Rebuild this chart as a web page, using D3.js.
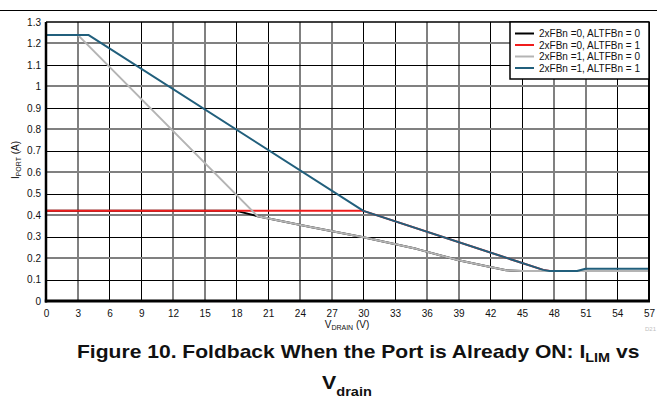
<!DOCTYPE html>
<html>
<head>
<meta charset="utf-8">
<script src="https://cdn.jsdelivr.net/npm/d3@7"></script>
<style>
  body { margin:0; background:#fff; }
  svg { display:block; font-family: "Liberation Sans", Arial, sans-serif; }
</style>
</head>
<body>
<script>
// series data (V_DRAIN in V, I_PORT in A)
const fb00 = [[0,0.42],[18,0.42],[20,0.395],[25,0.345],[30,0.297],[35,0.243],[39,0.19],[42,0.158],[43.5,0.143],[45,0.14],[57,0.14]]
const fb01 = [[0,0.42],[30,0.42],[47,0.145],[47.6,0.14],[57,0.14]]
const fb10 = [[0,1.24],[3,1.24],[20,0.395],[25,0.345],[30,0.297],[35,0.243],[39,0.19],[42,0.158],[43.5,0.143],[45,0.14],[57,0.14]]
const fb11 = [[0,1.24],[4,1.24],[30,0.42],[47,0.145],[47.6,0.14],[50.2,0.14],[51,0.15],[57,0.15]]
const seriesNames = ["2xFBn =0, ALTFBn = 0","2xFBn =0, ALTFBn = 1","2xFBn =1, ALTFBn = 0","2xFBn =1, ALTFBn = 1"]
const seriesColors = ["#000000","#f01c1c","#b4b4b4","#215f7c"]
const xTicks = d3.range(0,58,3)
const yTicks = [0,0.1,0.2,0.3,0.4,0.5,0.6,0.7,0.8,0.9,1,1.1,1.2,1.3]

const width = 658, height = 403
const margin = {top:22, right:9, bottom:102, left:46}

const svg = d3.select("body").append("svg")
  .attr("width",width).attr("height",height)

const x = d3.scaleLinear().domain([0,57]).range([margin.left, width-margin.right])
const y = d3.scaleLinear().domain([0,1.3]).range([height-margin.bottom, margin.top])

// top rule
svg.append("line").attr("x1",0).attr("x2",657).attr("y1",10.5).attr("y2",10.5)
  .attr("stroke","#000").attr("stroke-width",1.2)

// grid
const grid = svg.append("g")
xTicks.slice(1,-1).forEach((t,idx)=>{
  const i = idx+1
  const grey = (i%4===0 || i%4===1)
  const px = grey ? Math.round(x(t)) : Math.round(x(t))+0.5
  grid.append("line").attr("x1",px).attr("x2",px).attr("y1",y(1.3)).attr("y2",y(0))
    .attr("stroke",grey?"#808080":"#000").attr("stroke-width",grey?2:1)
})
yTicks.slice(1,-1).forEach((t,idx)=>{
  const k = idx+1
  const grey = k%2===0
  const py = grey ? Math.round(y(t)) : Math.round(y(t))+0.5
  grid.append("line").attr("x1",x(0)).attr("x2",x(57)).attr("y1",py).attr("y2",py)
    .attr("stroke",grey?"#808080":"#000").attr("stroke-width",grey?2:1)
})

// series
const line = d3.line().x(d=>x(d[0])).y(d=>y(d[1]))
;[fb00,fb01,fb10,fb11].forEach((s,i)=>{
  svg.append("path").datum(s).attr("d",line)
    .attr("fill","none").attr("stroke",seriesColors[i]).attr("stroke-width",2)
    .attr("stroke-linejoin","round")
})

// frame
svg.append("line").attr("x1",x(0)).attr("x2",x(57)).attr("y1",y(1.3)).attr("y2",y(1.3)).attr("stroke","#000").attr("stroke-width",1.5)
svg.append("line").attr("x1",x(57)).attr("x2",x(57)).attr("y1",y(1.3)).attr("y2",y(0)).attr("stroke","#000").attr("stroke-width",2)
svg.append("line").attr("x1",x(0)).attr("x2",x(0)).attr("y1",y(1.3)).attr("y2",y(0)+1.5).attr("stroke","#000").attr("stroke-width",2.5)
svg.append("line").attr("x1",x(0)-1.2).attr("x2",x(57)+1).attr("y1",y(0)).attr("y2",y(0)).attr("stroke","#000").attr("stroke-width",3)

// axes labels
const xAxis = d3.axisBottom(x).tickValues(xTicks).tickSize(0).tickPadding(9).tickFormat(d3.format("d"))
const yAxis = d3.axisLeft(y).tickValues(yTicks).tickSize(0).tickPadding(5).tickFormat(d=>d3.format("")(+d.toFixed(1)))
const gx = svg.append("g").attr("transform",`translate(0,${y(0)})`).call(xAxis)
const gy = svg.append("g").attr("transform",`translate(${x(0)},0)`).call(yAxis)
;[gx,gy].forEach(g=>{
  g.select(".domain").remove()
  g.selectAll("text").attr("font-size",10).attr("font-family","Liberation Sans, Arial, sans-serif").attr("fill","#111")
})

// axis titles
const xt = svg.append("text").attr("x",347).attr("y",328).attr("text-anchor","middle")
  .attr("font-size",10).attr("fill","#111")
xt.append("tspan").text("V")
xt.append("tspan").attr("font-size",7).attr("dy",1.5).text("DRAIN")
xt.append("tspan").attr("dy",-1.5).text(" (V)")

const yt = svg.append("text").attr("transform","translate(19,160) rotate(-90)").attr("text-anchor","middle")
  .attr("font-size",10).attr("fill","#111")
yt.append("tspan").text("I")
yt.append("tspan").attr("font-size",7).attr("dy",1.5).text("PORT")
yt.append("tspan").attr("dy",-1.5).text(" (A)")

svg.append("text").attr("x",656).attr("y",331).attr("text-anchor","end").attr("font-size",6).attr("fill","#c0c0c0").text("D21")

// legend
const lg = svg.append("g")
lg.append("rect").attr("x",510).attr("y",22).attr("width",139).attr("height",57)
  .attr("fill","#fff").attr("stroke","#000").attr("stroke-width",1.5)
seriesNames.forEach((n,i)=>{
  const ly = 33.5 + i*11.5
  lg.append("line").attr("x1",515).attr("x2",534).attr("y1",ly).attr("y2",ly)
    .attr("stroke",seriesColors[i]).attr("stroke-width",2)
  lg.append("text").attr("x",539).attr("y",ly+3.5).attr("font-size",10).attr("fill","#111").text(n)
})

// caption, stretched horizontally to the width it has in the figure
function fitText(t, left, w){
  const b = t.node().getBBox()
  const s = w / b.width
  t.attr("transform",`translate(${left},0) scale(${s},1) translate(${-b.x},0)`)
}
const c1 = svg.append("text").attr("x",0).attr("y",358.5)
  .attr("font-size",19).attr("font-weight","bold").attr("fill","#111")
c1.append("tspan").text("Figure 10. Foldback When the Port is Already ON: I")
c1.append("tspan").attr("font-size",13).attr("dy",3.5).text("LIM")
c1.append("tspan").attr("dy",-3.5).text(" vs")
fitText(c1, 77, 563)
const c2 = svg.append("text").attr("x",0).attr("y",389.5)
  .attr("font-size",19).attr("font-weight","bold").attr("fill","#111")
c2.append("tspan").text("V")
c2.append("tspan").attr("font-size",13).attr("dy",7).text("drain")
fitText(c2, 322, 50)
</script>
</body>
</html>
